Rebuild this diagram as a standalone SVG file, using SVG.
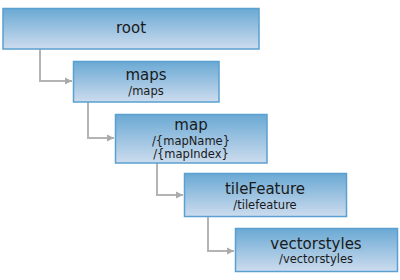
<svg xmlns="http://www.w3.org/2000/svg" width="400" height="280" viewBox="0 0 400 280">
<defs>
<linearGradient id="g" x1="0" y1="0" x2="0" y2="1">
<stop offset="0" stop-color="#6aa9d4"/>
<stop offset="1" stop-color="#cddcee"/>
</linearGradient>
<marker id="arr" markerWidth="8" markerHeight="8" refX="7" refY="4" orient="auto" markerUnits="userSpaceOnUse">
<path d="M0,0.5 L7,4 L0,7.5 Z" fill="#aaaaaa"/>
</marker>
<style>
.box{fill:url(#g);stroke:#5aa0d0;stroke-width:1.5}
.t{font-family:"DejaVu Sans",Verdana,sans-serif;font-size:15px;fill:#1a1a1a;text-anchor:middle}
.s{font-family:"DejaVu Sans",Verdana,sans-serif;font-size:11.5px;fill:#1a1a1a;text-anchor:middle}
.c{fill:none;stroke:#b4b4b4;stroke-width:2;marker-end:url(#arr)}
</style>
</defs>
<rect width="400" height="280" fill="#ffffff"/>
<g id="connectors">
<path class="c" d="M40,49 V81 H72"/>
<path class="c" d="M88,102 V138 H114"/>
<path class="c" d="M157,163 V195 H183"/>
<path class="c" d="M208,217 V251 H234"/>
</g>
<g id="root">
<rect class="box" x="3" y="8.5" width="256" height="40.5"/>
<text class="t" x="131" y="33">root</text>
</g>
<g id="maps">
<rect class="box" x="73.5" y="61.5" width="145.5" height="40.5"/>
<text class="t" x="146" y="80">maps</text>
<text class="s" x="146" y="94.5">/maps</text>
</g>
<g id="map">
<rect class="box" x="115.5" y="114.5" width="151.5" height="48.5"/>
<text class="t" x="191" y="130">map</text>
<text class="s" x="191" y="144.5">/{mapName}</text>
<text class="s" x="191" y="157.5">/{mapIndex}</text>
</g>
<g id="tileFeature">
<rect class="box" x="184.5" y="173.5" width="162" height="43"/>
<text class="t" x="265" y="194">tileFeature</text>
<text class="s" x="265" y="208.5">/tilefeature</text>
</g>
<g id="vectorstyles">
<rect class="box" x="235.5" y="228.5" width="162" height="43"/>
<text class="t" x="316" y="248.5">vectorstyles</text>
<text class="s" x="316" y="263">/vectorstyles</text>
</g>
</svg>
